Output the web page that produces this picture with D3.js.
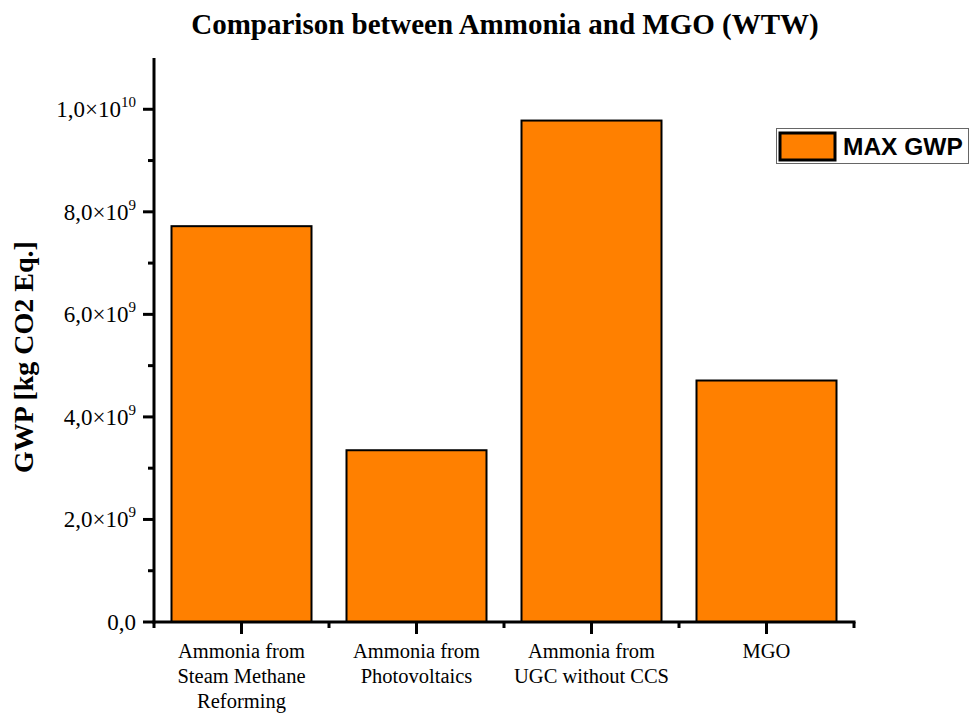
<!DOCTYPE html>
<html><head><meta charset="utf-8">
<script src="https://cdn.jsdelivr.net/npm/d3@7"></script>
<style>body{margin:0;background:#fff}svg{display:block}</style>
</head><body>
<script>
const categories = [
  ["Ammonia from","Steam Methane","Reforming"],
  ["Ammonia from","Photovoltaics"],
  ["Ammonia from","UGC without CCS"],
  ["MGO"]
];
const values = [7.72e9, 3.35e9, 9.78e9, 4.71e9];
const yTicks = [0, 2e9, 4e9, 6e9, 8e9, 1e10];
const yMinorTicks = [1e9, 3e9, 5e9, 7e9, 9e9];
const tickMantissa = ["0,0","2,0","4,0","6,0","8,0","1,0"];
const tickExp = [null,"9","9","9","9","10"];
const seriesName = "MAX GWP";

const W = 977, H = 714;
const m = {left:154, right:977-854, top:58, bottom:714-622};
const svg = d3.select("body").append("svg").attr("width",W).attr("height",H);

const x = d3.scaleBand().domain(d3.range(categories.length)).range([m.left, W-m.right]).paddingInner(0.2).paddingOuter(0.1);
const y = d3.scaleLinear().domain([0, 1.1e10]).range([H-m.bottom, m.top]);

const fill = "#ff8000";
const serif = "'Liberation Serif','Times New Roman',serif";

svg.selectAll("rect.bar").data(values).enter().append("rect")
  .attr("class","bar")
  .attr("x",(d,i)=>x(i)).attr("width",x.bandwidth())
  .attr("y",d=>y(d)).attr("height",d=>y(0)-y(d))
  .attr("fill",fill).attr("stroke","#000").attr("stroke-width",2);

// Y axis
const yAxis = svg.append("g").attr("transform",`translate(${m.left},0)`);
yAxis.append("line").attr("x1",0).attr("x2",0).attr("y1",y(1.1e10)).attr("y2",y(0)+1.5).attr("stroke","#000").attr("stroke-width",3);
yAxis.selectAll("line.maj").data(yTicks).enter().append("line")
  .attr("x1",-11).attr("x2",0).attr("y1",d=>y(d)).attr("y2",d=>y(d)).attr("stroke","#000").attr("stroke-width",3);
yAxis.selectAll("line.min").data(yMinorTicks).enter().append("line")
  .attr("x1",-6).attr("x2",0).attr("y1",d=>y(d)).attr("y2",d=>y(d)).attr("stroke","#000").attr("stroke-width",3);
const yl = yAxis.selectAll("text.tl").data(yTicks).enter().append("text")
  .attr("x",-18).attr("y",d=>y(d)+8)
  .attr("text-anchor","end")
  .style("font-family",serif).style("font-size","23px").attr("fill","#000");
yl.each(function(d,i){
  const t = d3.select(this);
  if (tickExp[i]) {
    t.append("tspan").text(tickMantissa[i] + "×10");
    t.append("tspan").attr("dy",-10).style("font-size","15px").text(tickExp[i]);
  } else {
    t.text(tickMantissa[i]);
  }
});

// X axis
const xAxis = svg.append("g").attr("transform",`translate(0,${y(0)})`);
xAxis.append("line").attr("x1",m.left-1.5).attr("x2",W-m.right+1.5).attr("y1",0).attr("y2",0).attr("stroke","#000").attr("stroke-width",3);
xAxis.selectAll("line.maj").data(d3.range(categories.length)).enter().append("line")
  .attr("x1",i=>x(i)+x.bandwidth()/2).attr("x2",i=>x(i)+x.bandwidth()/2).attr("y1",0).attr("y2",12).attr("stroke","#000").attr("stroke-width",3);
const step = x.step();
xAxis.selectAll("line.min").data(d3.range(categories.length+1)).enter().append("line")
  .attr("x1",i=>m.left+i*step).attr("x2",i=>m.left+i*step).attr("y1",0).attr("y2",6).attr("stroke","#000").attr("stroke-width",3);
xAxis.selectAll("text.xl").data(categories).enter().append("text")
  .attr("text-anchor","middle")
  .attr("transform",(d,i)=>`translate(${x(i)+x.bandwidth()/2},36)`)
  .style("font-family",serif).style("font-size","20.5px").attr("fill","#000")
  .each(function(lines){
    const t = d3.select(this);
    lines.forEach((l,k)=>t.append("tspan").attr("x",0).attr("y",k*25).text(l));
  });

// Title
svg.append("text").attr("x",505).attr("y",34).attr("text-anchor","middle")
  .style("font-family",serif).style("font-size","29px").style("font-weight","bold")
  .text("Comparison between Ammonia and MGO (WTW)");

// Y label
svg.append("text").attr("transform","translate(33,357) rotate(-90)").attr("text-anchor","middle")
  .style("font-family",serif).style("font-size","28px").style("font-weight","bold")
  .text("GWP [kg CO2 Eq.]");

// Legend
const lg = svg.append("g");
lg.append("rect").attr("x",776.5).attr("y",128.5).attr("width",192).attr("height",35).attr("fill","#fff").attr("stroke","#666").attr("stroke-width",1);
lg.append("rect").attr("x",780).attr("y",133).attr("width",55).attr("height",27).attr("fill",fill).attr("stroke","#000").attr("stroke-width",3);
lg.append("text").attr("x",843).attr("y",155)
  .style("font-family","'Liberation Sans',Arial,sans-serif").style("font-size","24.5px").style("font-weight","bold")
  .text(seriesName);
</script>
</body></html>
